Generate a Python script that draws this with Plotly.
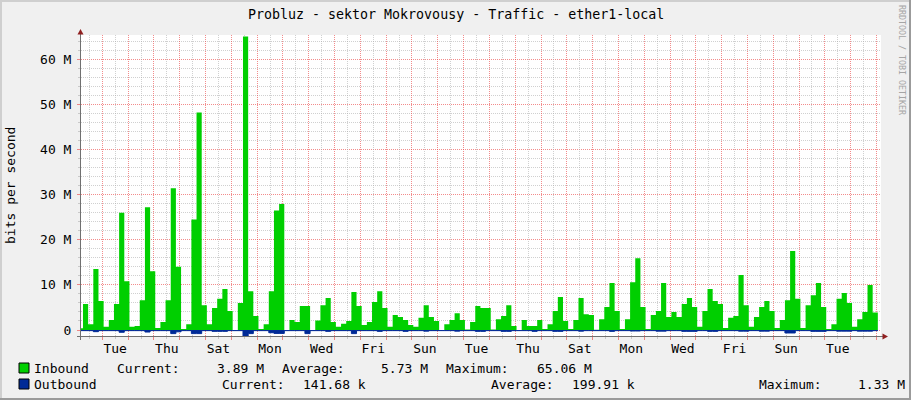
import plotly.graph_objects as go

TITLE = "Probluz - sektor Mokrovousy - Traffic - ether1-local"
Y_TITLE = "bits per second"
WATERMARK = "RRDTOOL / TOBI OETIKER"

# day labels every second day (placed at noon)
day_labels = ["Tue", "Thu", "Sat", "Mon", "Wed", "Fri", "Sun", "Tue",
              "Thu", "Sat", "Mon", "Wed", "Fri", "Sun", "Tue"]
y_tick_values_m = [0, 10, 20, 30, 40, 50, 60]
y_tick_labels = ["0", "10 M", "20 M", "30 M", "40 M", "50 M", "60 M"]

# inbound traffic, Mbit/s, one value per consolidation step
inbound_m = [
    0.4, 5.75, 1.3, 13.5, 6.4, 0.7, 2.2, 5.75, 26.0, 10.8,
    0.7, 0.9, 6.6, 27.2, 13.0, 0.45, 1.8, 6.6, 31.4, 14.0,
    0.2, 1.3, 24.5, 48.2, 5.5, 1.3, 4.9, 6.9, 9.1, 4.2,
    0.0, 6.0, 65.06, 8.6, 3.1, 0.2, 1.3, 8.6, 26.5, 27.9,
    0.0, 2.2, 1.8, 5.3, 5.3, 0.0, 2.1, 5.5, 7.1, 1.8,
    0.7, 1.4, 2.0, 8.4, 5.3, 1.1, 1.8, 6.2, 8.6, 4.9,
    0.7, 3.3, 2.9, 2.2, 1.1, 0.7, 2.7, 5.5, 2.9, 2.0,
    0.0, 1.3, 2.2, 3.7, 2.2, 0.1, 1.8, 5.3, 4.9, 4.9,
    0.1, 2.4, 3.1, 5.5, 0.9, 0.0, 2.2, 0.9, 0.9, 2.2,
    0.2, 1.3, 4.2, 7.3, 2.0, 0.2, 2.2, 7.1, 3.5, 3.3,
    0.05, 2.4, 5.1, 10.4, 4.2, 0.2, 2.4, 10.6, 15.9, 5.1,
    0.2, 3.3, 4.2, 10.4, 2.9, 4.0, 2.9, 5.75, 7.1, 5.1,
    0.7, 4.2, 9.1, 6.4, 5.75, 0.45, 2.7, 3.1, 12.2, 5.5,
    0.7, 2.9, 5.1, 6.4, 4.2, 0.45, 2.2, 6.6, 17.5, 6.9,
    0.45, 5.5, 7.7, 10.4, 5.1, 0.2, 1.3, 6.9, 8.2, 6.0,
    0.7, 2.4, 4.0, 10.0, 3.89,
]

# outbound traffic, Mbit/s (drawn below the axis)
outbound_m = [
    0.14, 0.14, 0.14, 0.37, 0.14, 0.14, 0.14, 0.14, 0.50, 0.14,
    0.14, 0.14, 0.14, 0.45, 0.14, 0.14, 0.14, 0.14, 0.80, 0.40,
    0.14, 0.14, 0.80, 0.80, 0.14, 0.14, 0.30, 0.30, 0.30, 0.14,
    0.14, 0.14, 1.33, 0.80, 0.14, 0.14, 0.14, 0.60, 0.75, 0.75,
    0.14, 0.14, 0.14, 0.14, 0.80, 0.14, 0.14, 0.14, 0.30, 0.14,
    0.14, 0.14, 0.14, 0.80, 0.14, 0.14, 0.14, 0.14, 0.30, 0.14,
    0.14, 0.14, 0.14, 0.30, 0.14, 0.14, 0.14, 0.25, 0.14, 0.14,
    0.14, 0.14, 0.14, 0.25, 0.14, 0.14, 0.14, 0.30, 0.30, 0.14,
    0.14, 0.14, 0.30, 0.30, 0.14, 0.14, 0.14, 0.14, 0.30, 0.14,
    0.14, 0.14, 0.30, 0.30, 0.14, 0.14, 0.14, 0.25, 0.14, 0.14,
    0.14, 0.14, 0.14, 0.30, 0.14, 0.14, 0.14, 0.22, 0.22, 0.14,
    0.14, 0.14, 0.25, 0.25, 0.14, 0.14, 0.14, 0.30, 0.30, 0.30,
    0.14, 0.14, 0.30, 0.30, 0.14, 0.14, 0.14, 0.14, 0.25, 0.25,
    0.14, 0.14, 0.25, 0.25, 0.14, 0.14, 0.14, 0.66, 0.66, 0.14,
    0.14, 0.14, 0.30, 0.30, 0.30, 0.14, 0.14, 0.25, 0.25, 0.25,
    0.14, 0.25, 0.25, 0.25, 0.14,
]

legend_names = ["Inbound", "Outbound"]
inbound_stats = ["3.89 M", "5.73 M", "65.06 M"]
outbound_stats = ["141.68 k", "199.91 k", "1.33 M"]

# ---------------------------------------------------------------- geometry
FIRST_STEP_DAY = -0.9477   # start of first step, days from first midnight
STEP_DAYS = 0.2
X_RANGE = [-0.825, 30.175]
Y_RANGE = [-1.33e6, 65.38e6]

W, H = 911, 400
L, R, T, B = 81, 30, 35, 64
PW, PH = W - L - R, H - T - B


def px(x):
    return (x - L) / PW


def py(y):
    return (H - B - y) / PH


FONT = "DejaVu Sans Mono"
IN_COLOR = "#00CF00"
OUT_COLOR = "#002A97"
MGRID = "rgba(235,70,70,0.62)"
GRID = "rgba(170,170,170,0.55)"
DASH = "1px,1px"

n = len(inbound_m)
xs = [FIRST_STEP_DAY + i * STEP_DAYS for i in range(n + 1)]
y_in = [v * 1e6 for v in inbound_m] + [inbound_m[-1] * 1e6]
y_out = [-v * 1e6 for v in outbound_m] + [-outbound_m[-1] * 1e6]

fig = go.Figure()
fig.add_trace(go.Scatter(
    x=xs, y=y_in, mode="lines", fill="tozeroy", fillcolor=IN_COLOR,
    line=dict(width=0, shape="hv", color=IN_COLOR), hoverinfo="skip",
    showlegend=False))
fig.add_trace(go.Scatter(
    x=xs, y=y_out, mode="lines", fill="tozeroy", fillcolor=OUT_COLOR,
    line=dict(width=1, shape="hv", color=OUT_COLOR), hoverinfo="skip",
    showlegend=False))
# carriers for the grid-only overlay axes
for ax in ("x2", "x3"):
    fig.add_trace(go.Scatter(x=[X_RANGE[0]], y=[0], mode="none", xaxis=ax,
                             hoverinfo="skip", showlegend=False))

label_pos = [0.5 + 2 * i for i in range(len(day_labels))]
noon_pos = [d + 0.5 for d in range(-1, 31)]
midnight_pos = [d for d in range(0, 31)]

minor_y = [v * 1e6 for v in range(0, 66, 2) if v % 10 != 0]

tickfont = dict(family=FONT, size=13, color="#000000")

fig.update_layout(
    width=W, height=H,
    margin=dict(l=L, r=R, t=T, b=B, pad=0),
    paper_bgcolor="#F0F0F0", plot_bgcolor="#FFFFFF",
    showlegend=False,
    xaxis=dict(range=X_RANGE, tickmode="array", tickvals=label_pos,
               ticktext=day_labels, showgrid=False, zeroline=False,
               showline=False, ticks="", ticklabelstandoff=3,
               tickfont=tickfont, fixedrange=True),
    xaxis2=dict(range=X_RANGE, overlaying="x", anchor="y", side="bottom",
                tickmode="array", tickvals=noon_pos, showticklabels=False,
                showgrid=True, gridcolor=GRID, griddash=DASH, gridwidth=1,
                ticks="outside", ticklen=2, tickcolor=GRID,
                zeroline=False, showline=False),
    xaxis3=dict(range=X_RANGE, overlaying="x", anchor="y", side="bottom",
                tickmode="array", tickvals=midnight_pos, showticklabels=False,
                showgrid=True, gridcolor=MGRID, griddash=DASH, gridwidth=1,
                ticks="outside", ticklen=3, tickcolor=MGRID,
                zeroline=False, showline=False),
    yaxis=dict(range=Y_RANGE, tickmode="array",
               tickvals=[v * 1e6 for v in y_tick_values_m],
               ticktext=y_tick_labels, showgrid=True, gridcolor=MGRID,
               griddash=DASH, gridwidth=1, zeroline=False, showline=False,
               ticks="outside", ticklen=3, tickcolor=MGRID,
               ticklabelstandoff=3, tickfont=tickfont,
               minor=dict(tickvals=minor_y, showgrid=True, gridcolor=GRID,
                          griddash=DASH, ticks="outside", ticklen=2,
                          tickcolor=GRID)),
)

ann = []
ann.append(dict(text=TITLE, x=px(455.5), y=py(14), xref="paper", yref="paper",
                xanchor="center", yanchor="middle", showarrow=False,
                font=dict(family=FONT, size=13.3, color="#000000")))
ann.append(dict(text=Y_TITLE, x=px(10), y=py(186), xref="paper", yref="paper",
                xanchor="center", yanchor="middle", showarrow=False,
                textangle=-90, font=dict(family=FONT, size=13, color="#000000")))
ann.append(dict(text=WATERMARK, x=px(902), y=py(60), xref="paper", yref="paper",
                xanchor="center", yanchor="middle", showarrow=False,
                textangle=90, font=dict(family=FONT, size=8.3, color="#A5A5A5")))


def text_at(s, x, y, anchor="left"):
    shift = -2 if anchor == "left" else 2
    ann.append(dict(text=s, x=px(x + shift), y=py(y), xref="paper", yref="paper",
                    xanchor=anchor, yanchor="middle", showarrow=False,
                    font=dict(family=FONT, size=13, color="#000000")))


row1, row2 = 368, 384
text_at(legend_names[0], 34, row1)
text_at("Current:", 117, row1)
text_at(inbound_stats[0], 264, row1, "right")
text_at("Average:", 282, row1)
text_at(inbound_stats[1], 428, row1, "right")
text_at("Maximum:", 446, row1)
text_at(inbound_stats[2], 592, row1, "right")

text_at(legend_names[1], 34, row2)
text_at("Current:", 222, row2)
text_at(outbound_stats[0], 366, row2, "right")
text_at("Average:", 491, row2)
text_at(outbound_stats[1], 635, row2, "right")
text_at("Maximum:", 759, row2)
text_at(outbound_stats[2], 905, row2, "right")

shapes = []
# legend swatches
for yy, col in ((row1, IN_COLOR), (row2, OUT_COLOR)):
    shapes.append(dict(type="rect", xref="paper", yref="paper",
                       x0=px(19), x1=px(29), y0=py(yy - 5), y1=py(yy + 5),
                       fillcolor=col, line=dict(color="#000000", width=1)))
# axis lines
AXIS = "#707070"
shapes.append(dict(type="line", xref="paper", yref="paper",
                   x0=px(80.5), x1=px(80.5), y0=py(340), y1=py(33),
                   line=dict(color=AXIS, width=1)))
shapes.append(dict(type="line", xref="paper", yref="paper",
                   x0=px(77), x1=px(884), y0=py(336.5), y1=py(336.5),
                   line=dict(color=AXIS, width=1)))
# arrows
ARROW = "#8F1F1F"
shapes.append(dict(type="path", xref="paper", yref="paper",
                   path=f"M {px(77.5)} {py(34.5)} L {px(83.5)} {py(34.5)} L {px(80.5)} {py(29)} Z",
                   fillcolor=ARROW, line=dict(width=0)))
shapes.append(dict(type="path", xref="paper", yref="paper",
                   path=f"M {px(882.5)} {py(333.5)} L {px(882.5)} {py(339.5)} L {px(888)} {py(336.5)} Z",
                   fillcolor=ARROW, line=dict(width=0)))
# image frame
shapes.append(dict(type="rect", xref="paper", yref="paper",
                   x0=px(0), x1=px(W), y0=py(0), y1=py(2),
                   fillcolor="#CFCFCF", line=dict(width=0)))
shapes.append(dict(type="rect", xref="paper", yref="paper",
                   x0=px(0), x1=px(2), y0=py(0), y1=py(H),
                   fillcolor="#CFCFCF", line=dict(width=0)))
shapes.append(dict(type="rect", xref="paper", yref="paper",
                   x0=px(0), x1=px(W), y0=py(H - 2), y1=py(H),
                   fillcolor="#9B9B9B", line=dict(width=0)))
shapes.append(dict(type="rect", xref="paper", yref="paper",
                   x0=px(W - 2), x1=px(W), y0=py(0), y1=py(H),
                   fillcolor="#9B9B9B", line=dict(width=0)))

fig.update_layout(annotations=ann, shapes=shapes)
fig.write_html("out.html",
               config={"displayModeBar": False, "staticPlot": True},
               post_script="document.body.style.margin='0';"
                           "document.body.style.overflow='hidden';")
